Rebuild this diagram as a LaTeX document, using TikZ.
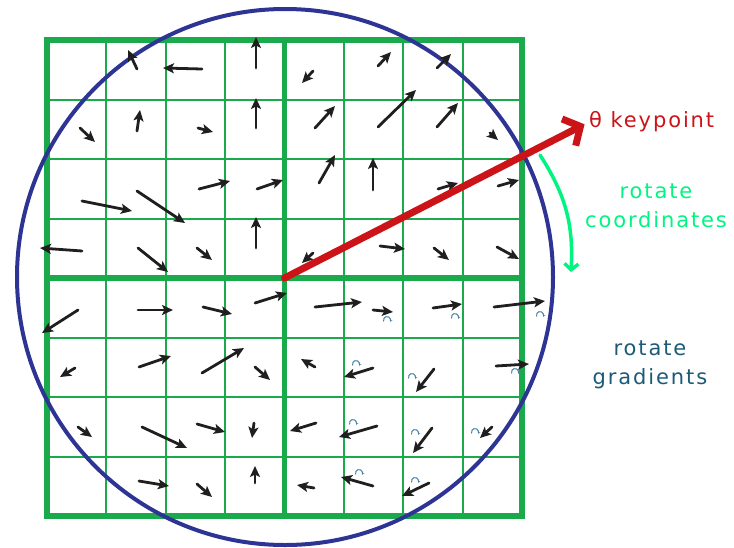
\documentclass[tikz,border=0pt]{standalone}
\usepackage{fontspec}
\newfontfamily\labelfont[LetterSpace=9]{DejaVu Sans}
\usetikzlibrary{arrows.meta}
\definecolor{gridgreen}{RGB}{26,170,76}
\definecolor{ringblue}{RGB}{46,52,148}
\definecolor{keyred}{RGB}{204,20,24}
\definecolor{coordgreen}{RGB}{0,245,128}
\definecolor{gradteal}{RGB}{28,90,120}
\definecolor{spinteal}{RGB}{70,130,165}

\begin{document}
\begin{tikzpicture}[x=1pt, y=-1pt, line cap=round,
  thin grid/.style={gridgreen, line width=2pt},
  thick grid/.style={gridgreen, line width=5.5pt, line cap=butt},
  ring/.style={ringblue, line width=4pt},
  grad/.style={line width=2.8pt, black!88, -{Stealth[length=11pt, width=10pt, inset=2.5pt]}},
  spin/.style={spinteal, line width=1pt, -{Stealth[length=2.5pt, width=3pt]}},
  label/.style={font=\labelfont\fontsize{21}{29}\selectfont, align=center, inner sep=0pt}]
\useasboundingbox (0,0) rectangle (734,547);
% 8x8 sample grid
\foreach \i in {1,2,3,5,6,7} {
  \draw[thin grid] (47+\i*59.375,40) -- (47+\i*59.375,516);
  \draw[thin grid] (47,40+\i*59.5) -- (522,40+\i*59.5);
}
\draw[thick grid] (47,40) rectangle (522,516);
\draw[thick grid] (284.5,40) -- (284.5,516);
\draw[thick grid] (47,278) -- (522,278);
% descriptor window
\draw[ring] (285,277) circle[radius=268];
% gradients, upper half
\foreach \ax/\ay/\bx/\by in {137/69/128/50, 202/69/163/68, 256/68/256/37,
  80/128/95/142, 137/131/140/110, 198/128/213/132, 256/128/256/98,
  82/201/132/211, 137/191/185/223, 199/189/230/181, 257/189/283/180,
  256/248/256/217, 82/251/40/248, 138/248/168/272, 197/248/212/260,
  313/71/302/83, 378/66/391/52, 437/68/451/54,
  315/128/335/106, 378/127/416/90, 437/127/458/103, 490/133/498/140,
  319/183/335/155, 373/190/373/158, 438/189/458/183, 498/186/519/180,
  380/246/405/249, 434/248/449/260, 497/247/519/259, 313/253/302/263}
  \draw[grad] (\ax,\ay) -- (\bx,\by);
% gradients, lower half
\foreach \ax/\ay/\bx/\by in {78/310/42/333, 138/310/173/310, 203/307/232/314, 255/303/287/293,
  75/368/60/377, 139/367/171/356, 202/373/244/348, 255/367/270/380,
  78/427/92/437, 142/427/187/448, 197/424/225/432, 254/423/252/438,
  139/481/169/486, 197/484/212/497, 255/483/255/466,
  315/307/362/302, 373/310/393/312, 433/308/462/304, 494/307/545/301,
  315/367/301/359, 373/368/344/377, 434/369/416/392, 496/366/529/364,
  316/423/290/431, 377/426/339/437, 432/428/413/453, 492/427/480/438,
  314/488/297/485, 373/486/341/477, 429/483/402/496}
  \draw[grad] (\ax,\ay) -- (\bx,\by);
% small rotation marks
\foreach \x/\y in {387/320, 455/317, 540/315, 356/364, 412/377, 515/372,
  353/423, 415/433, 475/432, 359/473, 415/481}
  \draw[spin] (\x-3.3,\y+1.2) arc[start angle=160, end angle=390, radius=3.5];
% keypoint orientation
\coordinate (center) at (284.5,278);
\node[label, keyred, anchor=west] (keypoint) at (589,122) {θ keypoint};
\draw[keyred, line width=7pt, -{Straight Barb[length=13pt, width=30pt]}, shorten >=5pt] (center) -- (keypoint.west);
\node[label, coordgreen] (rotcoord) at (656,206) {rotate\\coordinates};
\coordinate (turnstart) at (540,155);
\coordinate (turnend) at (571,272);
\draw[coordgreen, line width=3.5pt, -{Straight Barb[length=6pt, width=14pt]}] (turnstart) to[bend left=18] (turnend);
\node[label, gradteal] (rotgrad) at (650,365) {rotate\\gradients};
\end{tikzpicture}
\end{document}
